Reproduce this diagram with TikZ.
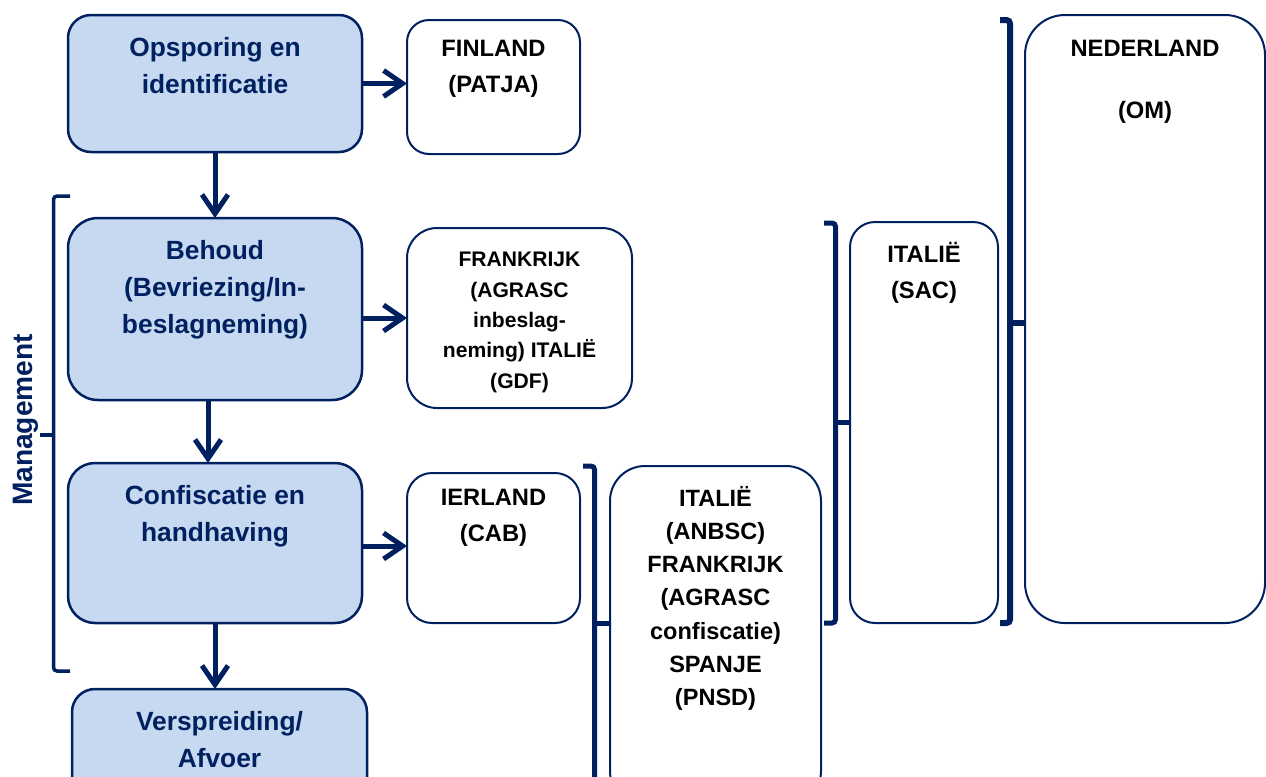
\documentclass[tikz,border=0pt]{standalone}
\usepackage{fontspec}
\setmainfont{Liberation Sans}
\usepackage{xcolor}
\definecolor{navy}{RGB}{0,32,96}
\definecolor{lichtblauw}{RGB}{198,217,241}
\usepackage{tikz}
\usetikzlibrary{arrows.meta,positioning}

\begin{document}
\begin{tikzpicture}[
    blok/.style={rectangle, draw=navy, line width=0.05cm, outer sep=0pt, fill=lichtblauw, minimum width=5.88cm},
    bloktekst/.style={anchor=north, align=center, text=navy, yshift=-0.32cm, font=\bfseries\fontsize{15}{21}\selectfont},
    land/.style={rectangle, draw=navy, line width=0.04cm, outer sep=0pt, fill=white},
    landtekst/.style={anchor=north, align=center, text=black, yshift=-0.28cm, font=\bfseries\fontsize{13.5}{20.4}\selectfont},
    pijl/.style={-{Straight Barb[length=0.38cm, width=0.52cm]}, line width=0.1cm, draw=navy},
    haak/.style={draw=navy, line width=0.1cm, rounded corners=2pt}
]
\useasboundingbox (0,0) rectangle (25.32,-15.52);

% linker kolom: de fasen
\node[blok, minimum height=2.74cm, rounded corners=0.46cm, anchor=north west,
    label={[bloktekst]north:{Opsporing en\\identificatie}}] (ops) at (1.36,-0.30) {};
\node[blok, minimum height=3.64cm, rounded corners=0.6cm, below=1.32cm of ops,
    label={[bloktekst]north:{Behoud\\(Bevriezing/In-\\beslagneming)}}] (beh) {};
\node[blok, minimum height=3.20cm, rounded corners=0.54cm, below=1.26cm of beh,
    label={[bloktekst]north:{Confiscatie en\\handhaving}}] (conf) {};
\node[blok, minimum height=2.74cm, minimum width=5.90cm, rounded corners=0.46cm, below=1.32cm of conf, xshift=0.09cm,
    label={[bloktekst]north:{Verspreiding/\\Afvoer}}] (versp) {};

% de landen
\node[land, minimum width=3.46cm, minimum height=2.68cm, rounded corners=0.44cm, anchor=north west,
    label={[landtekst]north:{FINLAND\\(PATJA)}}] (fin) at (8.14,-0.40) {};
\node[land, minimum width=4.50cm, minimum height=3.60cm, rounded corners=0.6cm, anchor=north west,
    label={[landtekst, yshift=-0.08cm, font=\bfseries\fontsize{12}{17.3}\selectfont]north:{FRANKRIJK\\(AGRASC\\inbeslag-\\neming) ITALIË\\(GDF)}}] (fra) at (8.14,-4.56) {};
\node[land, minimum width=3.46cm, minimum height=3.00cm, rounded corners=0.5cm, anchor=north west,
    label={[landtekst, yshift=0.08cm]north:{IERLAND\\(CAB)}}] (ier) at (8.14,-9.46) {};
\node[land, minimum width=4.22cm, minimum height=6.80cm, rounded corners=0.7cm, anchor=north west,
    label={[landtekst, font=\bfseries\fontsize{13.4}{18.9}\selectfont]north:{ITALIË\\(ANBSC)\\FRANKRIJK\\(AGRASC\\confiscatie)\\SPANJE\\(PNSD)}}] (anb) at (12.20,-9.32) {};
\node[land, minimum width=2.96cm, minimum height=8.02cm, rounded corners=0.5cm, anchor=north west,
    label={[landtekst]north:{ITALIË\\(SAC)}}] (sac) at (17.00,-4.44) {};
\node[land, minimum width=4.80cm, minimum height=12.16cm, rounded corners=0.8cm, anchor=north west,
    label={[landtekst, yshift=-0.1cm, font=\bfseries\fontsize{13.5}{17.6}\selectfont]north:{NEDERLAND\\[17.6pt](OM)}}] (ned) at (20.50,-0.30) {};

\node[rotate=90, text=navy, font=\bfseries\fontsize{16}{19}\selectfont] (mgmt) at (0.52,-8.40) {Management};

% pijlen
\draw[pijl] (ops) -- (beh);
\draw[pijl] ([xshift=-0.14cm]beh.south) -- ([xshift=-0.14cm]conf.north);
\draw[pijl] (conf.south) -- (conf.south |- versp.north);
\draw[pijl] (ops.east) -- (ops.east -| fin.west);
\draw[pijl] (beh.east |- fra.west) -- (fra.west);
\draw[pijl] ([yshift=-0.06cm]conf.east) -- ([yshift=-0.06cm]conf.east -| ier.west);

% haken
\draw[haak, line width=0.07cm] (1.40,-3.92) -- (1.07,-3.92) -- (1.07,-13.42) -- (1.40,-13.42);
\draw[haak, line width=0.07cm] (1.07,-8.70) -- (0.80,-8.70);
\draw[haak] (11.66,-9.32) -- (11.89,-9.32) -- (11.89,-16.0);
\draw[haak] (11.89,-12.46) -- (anb.west |- 0,-12.46);
\draw[haak] (16.48,-4.46) -- (16.71,-4.46) -- (16.71,-12.46) -- (16.48,-12.46);
\draw[haak] (16.71,-8.44) -- (sac.west |- 0,-8.44);
\draw[haak, line width=0.12cm] (20.00,-0.40) -- (20.20,-0.40) -- (20.20,-12.46) -- (20.00,-12.46);
\draw[haak, line width=0.12cm] (20.20,-6.46) -- (ned.west |- 0,-6.46);
\end{tikzpicture}
\end{document}
